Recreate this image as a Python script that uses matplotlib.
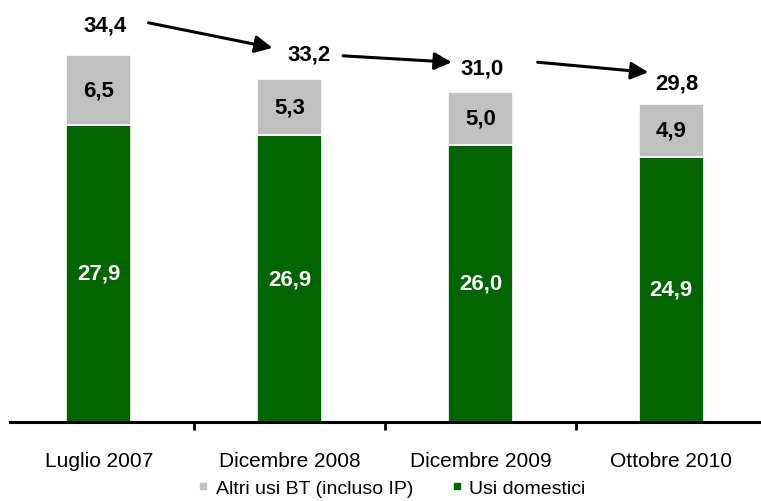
import matplotlib
matplotlib.use('Agg')
import matplotlib.pyplot as plt
from matplotlib.lines import Line2D

# data
periods = ['Luglio 2007', 'Dicembre 2008', 'Dicembre 2009', 'Ottobre 2010']
domestici = [27.9, 26.9, 26.0, 24.9]
altri = [6.5, 5.3, 5.0, 4.9]
totals = [34.4, 33.2, 31.0, 29.8]

green = '#006400'
grey = '#C0C0C0'
plt.rcParams['font.family'] = ['Liberation Sans', 'DejaVu Sans']

fig = plt.figure(figsize=(7.61, 5.02), dpi=100)
ax = fig.add_axes([10 / 761, 79 / 502, 751 / 761, 423 / 502])

x = list(range(len(periods)))
ax.bar(x, domestici, width=0.34, color=green, edgecolor='white', linewidth=1.2)
ax.bar(x, altri, width=0.34, bottom=domestici, color=grey, edgecolor='white', linewidth=1.2)

for i in x:
    ax.text(i, domestici[i] / 2, f'{domestici[i]:.1f}'.replace('.', ','),
            ha='center', va='center', color='white', fontsize=16, fontweight='bold')
    ax.text(i, domestici[i] + altri[i] / 2, f'{altri[i]:.1f}'.replace('.', ','),
            ha='center', va='center', color='black', fontsize=16, fontweight='bold')

# total labels placed as in the original slide
label_pos = [(0.03, 37.25), (1.10, 34.5), (2.01, 33.2), (3.03, 31.8)]
for (lx, ly), t in zip(label_pos, totals):
    ax.text(lx, ly, f'{t:.1f}'.replace('.', ','), ha='center', va='center',
            color='black', fontsize=16, fontweight='bold')

arrows = [((0.26, 37.45), (0.91, 35.1)),
          ((1.28, 34.35), (1.85, 33.75)),
          ((2.30, 33.75), (2.88, 32.8))]
for start, end in arrows:
    ax.annotate('', xy=end, xytext=start,
                arrowprops=dict(arrowstyle='-|>', color='black', lw=2.2,
                                mutation_scale=26, shrinkA=0, shrinkB=0))

ax.set_xlim(-0.466, 3.471)
ax.set_ylim(0, 39.68)
for s in ['top', 'right', 'left']:
    ax.spines[s].set_visible(False)
ax.spines['bottom'].set_linewidth(2.2)
ax.set_yticks([])

# tick marks sit between categories, labels under the bars
ax.set_xticks([0.5, 1.5, 2.5])
ax.set_xticklabels([])
ax.tick_params(axis='x', which='major', direction='out', length=6, width=2)
ax.set_xticks(x, minor=True)
ax.set_xticklabels(periods, minor=True, fontsize=15)
ax.tick_params(axis='x', which='minor', length=0, pad=21)

handles = [Line2D([], [], marker='s', color=grey, linestyle='none', markersize=4.5),
           Line2D([], [], marker='s', color=green, linestyle='none', markersize=4.5)]
fig.legend(handles, ['Altri usi BT (incluso IP)', 'Usi domestici'], loc='lower center',
           bbox_to_anchor=(0.515, -0.026), ncol=2, frameon=False, handlelength=0.5,
           handletextpad=0.4, columnspacing=2.0, prop={'size': 14})

fig.savefig('out.png', dpi=100)
